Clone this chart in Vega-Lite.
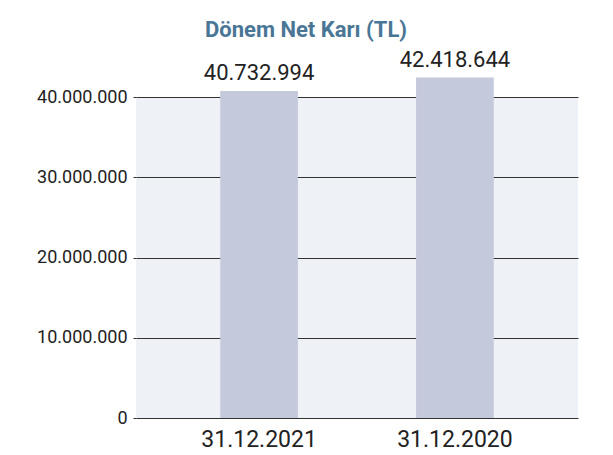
{
  "$schema": "https://vega.github.io/schema/vega-lite/v6.json",
  "width": 442,
  "height": 321,
  "autosize": {"type": "none"},
  "padding": {"left": 136, "top": 97, "right": 35, "bottom": 37},
  "background": "white",
  "title": {
    "text": "Dönem Net Karı (TL)",
    "font": "Roboto",
    "fontSize": 22,
    "fontWeight": "bold",
    "color": "#4a7696",
    "anchor": "middle",
    "frame": "group",
    "dx": -51,
    "offset": 7
  },
  "config": {
    "locale": {"number": {"decimal": ",", "thousands": ".", "grouping": [3], "currency": ["", " TL"]}},
    "view": {"fill": "#eef2f7", "stroke": null},
    "font": "Roboto"
  },
  "data": {
    "values": [
      {"date": "31.12.2021", "value": 40732994},
      {"date": "31.12.2020", "value": 42418644}
    ]
  },
  "encoding": {
    "x": {
      "field": "date",
      "type": "nominal",
      "sort": null,
      "scale": {"paddingInner": 0.603, "paddingOuter": 0.43},
      "axis": {
        "title": null,
        "labelAngle": 0,
        "labelFontSize": 23,
        "labelColor": "#222222",
        "labelPadding": 10,
        "ticks": false,
        "domain": false,
        "grid": false
      }
    },
    "y": {
      "field": "value",
      "type": "quantitative",
      "scale": {"domain": [0, 40000000], "nice": false},
      "axis": {
        "title": null,
        "values": [0, 10000000, 20000000, 30000000, 40000000],
        "format": ",d",
        "labelFontSize": 18,
        "labelColor": "#222222",
        "labelPadding": 6,
        "tickSize": 3,
        "tickColor": "#333333",
        "domain": false,
        "grid": true,
        "gridColor": "#333333",
        "gridOpacity": 1,
        "gridWidth": 1
      }
    }
  },
  "layer": [
    {"mark": {"type": "bar", "color": "#c5c9dc"}},
    {
      "mark": {"type": "text", "baseline": "bottom", "dy": -6, "fontSize": 22, "color": "#222222"},
      "encoding": {"text": {"field": "value", "type": "quantitative", "format": ",d"}}
    }
  ]
}
